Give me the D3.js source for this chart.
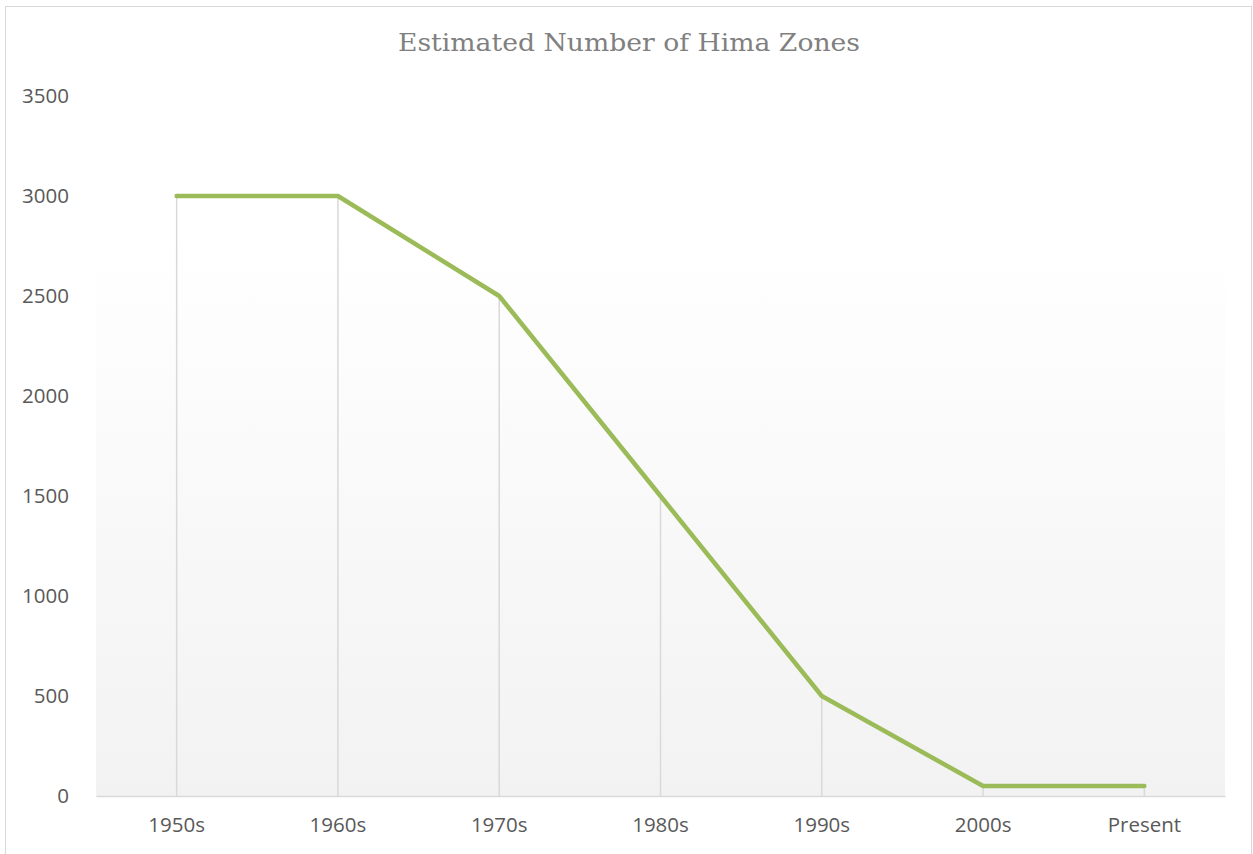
<!DOCTYPE html>
<html><head><meta charset="utf-8">
<script src="https://cdn.jsdelivr.net/npm/d3@7/dist/d3.min.js"></script>
<style>body{margin:0;background:#fff}svg{display:block}</style>
</head><body>
<script>
const categories = ["1950s","1960s","1970s","1980s","1990s","2000s","Present"];
const values = [3000,3000,2500,1500,500,50,50];
const yTicks = [0,500,1000,1500,2000,2500,3000,3500];
const title = "Estimated Number of Hima Zones";

(function(){
const W=1253,H=854;
const svg=d3.select("body").append("svg").attr("width",W).attr("height",H);
const defs=svg.append("defs");
const g=defs.append("linearGradient").attr("id","bg").attr("x1",0).attr("y1",0).attr("x2",0).attr("y2",1);
g.append("stop").attr("offset","0%").attr("stop-color","#ffffff");
g.append("stop").attr("offset","100%").attr("stop-color","#f2f2f2");

svg.append("rect").attr("x",5.5).attr("y",6.5).attr("width",1246).attr("height",860)
  .attr("fill","#fff").attr("stroke","#d9d9d9").attr("stroke-width",1);

const pl=96,pr=1225,pt=96,pb=796;
const x=d3.scaleBand().domain(categories).range([pl,pr]);
const y=d3.scaleLinear().domain([0,3500]).range([pb,pt]);

svg.append("rect").attr("x",pl).attr("y",y(2780)).attr("width",pr-pl).attr("height",pb-y(2780))
  .attr("fill","url(#bg)");

svg.append("text").attr("x",629).attr("y",51).attr("text-anchor","middle")
  .attr("font-family","'DejaVu Serif', 'Liberation Serif', serif").attr("font-size",25).attr("fill","#808080")
  .attr("textLength",462).attr("lengthAdjust","spacingAndGlyphs")
  .text(title);

svg.selectAll(".drop").data(categories).enter().append("line")
  .attr("x1",d=>x(d)+x.bandwidth()/2).attr("x2",d=>x(d)+x.bandwidth()/2)
  .attr("y1",(d,i)=>y(values[i])).attr("y2",pb)
  .attr("stroke","#d9d9d9").attr("stroke-width",1.5);

const xa=svg.append("g").attr("transform",`translate(0,${pb})`)
  .call(d3.axisBottom(x).tickSize(0).tickPadding(21));
xa.select(".domain").attr("stroke","#d9d9d9").attr("stroke-width",1.5);
xa.selectAll("text").attr("font-family","'Open Sans', 'Noto Sans', sans-serif").attr("font-size",20.5).attr("fill","#595959");

const ya=svg.append("g").attr("transform",`translate(${pl},0)`)
  .call(d3.axisLeft(y).tickValues(yTicks).tickSize(0).tickPadding(27).tickFormat(d3.format("d")));
ya.select(".domain").remove();
ya.selectAll("text").attr("font-family","'Open Sans', 'Noto Sans', sans-serif").attr("font-size",20.5).attr("fill","#595959");

const line=d3.line().x((d,i)=>x(categories[i])+x.bandwidth()/2).y(d=>y(d));
svg.append("path").datum(values).attr("d",line).attr("fill","none")
  .attr("stroke","#9bbb59").attr("stroke-width",4.5).attr("stroke-linecap","round").attr("stroke-linejoin","round");
})();
</script>
</body></html>
